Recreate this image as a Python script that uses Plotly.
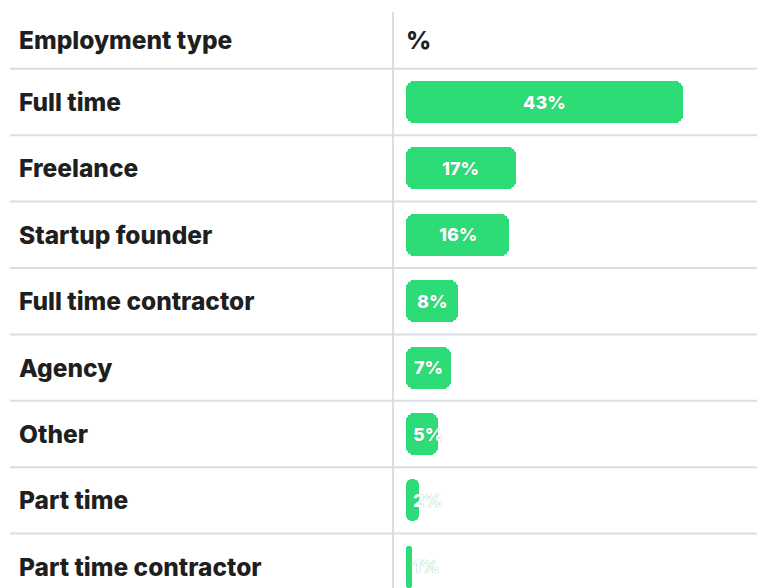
import plotly.graph_objects as go

categories = ["Full time", "Freelance", "Startup founder", "Full time contractor",
              "Agency", "Other", "Part time", "Part time contractor"]
values = [43, 17, 16, 8, 7, 5, 2, 1]
value_labels = [f"{v}%" for v in values]
header_left = "Employment type"
header_right = "%"

# page places the figure at (8, 8); sizes below are in figure pixels
W, H = 757, 580
px_per_unit = 6.45
bar_x0_px = 398
row_h = 66.4
row0_px = 94

x_range = [-bar_x0_px / px_per_unit, (W - bar_x0_px) / px_per_unit]
y_top = -row0_px / row_h
y_bot = (H - row0_px) / row_h

GREEN = "#2edc77"
TEXT = "#1f1f1f"
LINE = "#dedede"
LABEL_FONT = dict(family="Inter", size=24.5, color=TEXT, weight=800)
BAR_FONT = dict(family="Inter", size=18, color="white", weight=800,
                shadow="0px 0px 1px rgba(60,170,100,0.9)")

fig = go.Figure()
fig.add_trace(go.Bar(
    x=values, base=[0] * len(values), y=categories, orientation="h", width=0.63,
    marker=dict(color=GREEN, cornerradius=8, line=dict(width=0)),
    hoverinfo="skip",
))

annotations = []
for cat in categories:
    annotations.append(dict(x=9 / W, xref="paper", y=cat, yref="y", text=cat,
                            showarrow=False, xanchor="left", yanchor="middle",
                            font=LABEL_FONT))
annotations.append(dict(x=9 / W, xref="paper", y=1 - 32 / H, yref="paper", text=header_left,
                        showarrow=False, xanchor="left", yanchor="middle", font=LABEL_FONT))
annotations.append(dict(x=396 / W, xref="paper", y=1 - 32 / H, yref="paper", text=header_right,
                        showarrow=False, xanchor="left", yanchor="middle", font=LABEL_FONT))

text_w_px = 34
for cat, v, lab in zip(categories, values, value_labels):
    bar_w = v * px_per_unit
    if bar_w >= text_w_px + 10:
        annotations.append(dict(x=v / 2, y=cat, text=lab, showarrow=False,
                                xanchor="center", yanchor="middle", font=BAR_FONT))
    else:
        annotations.append(dict(x=0, y=cat, text=lab, showarrow=False,
                                xanchor="left", yanchor="middle", xshift=5, font=BAR_FONT))

shapes = []
for i in range(-1, len(categories) - 1):
    shapes.append(dict(type="line", xref="paper", x0=2 / W, x1=1, yref="y", y0=i + 0.5, y1=i + 0.5,
                       line=dict(color=LINE, width=2), layer="below"))
shapes.append(dict(type="line", xref="paper", x0=385 / W, x1=385 / W, yref="paper", y0=0, y1=1 - 4 / H,
                   line=dict(color=LINE, width=2), layer="below"))

fig.update_layout(
    width=W, height=H,
    margin=dict(l=0, r=0, t=0, b=0),
    paper_bgcolor="white", plot_bgcolor="white",
    showlegend=False,
    xaxis=dict(range=x_range, visible=False, fixedrange=True),
    yaxis=dict(range=[y_bot, y_top], visible=False, fixedrange=True,
               categoryorder="array", categoryarray=categories),
    annotations=annotations,
    shapes=shapes,
    bargap=0,
)

fig.write_html("out.html")
